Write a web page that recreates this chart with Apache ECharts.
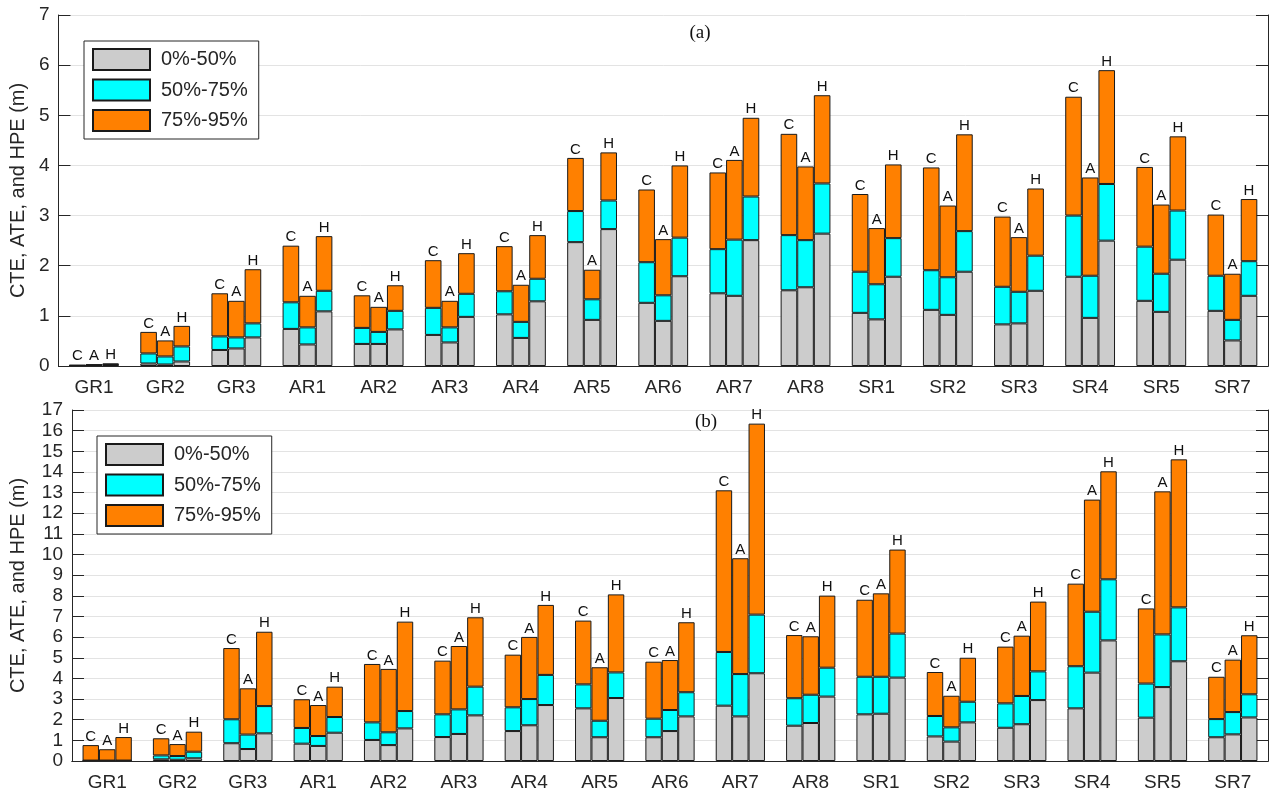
<!DOCTYPE html>
<html><head><meta charset="utf-8">
<script src="https://cdn.jsdelivr.net/npm/echarts@6/dist/echarts.min.js"></script>
<style>html,body{margin:0;padding:0;background:#fff}#c{width:1272px;height:793px}</style>
</head><body><div id="c"></div>
<script>
const categories = ['GR1','GR2','GR3','AR1','AR2','AR3','AR4','AR5','AR6','AR7','AR8','SR1','SR2','SR3','SR4','SR5','SR7'];
const segmentNames = ['0%-50%','50%-75%','75%-95%'];
const barLetters = ['C','A','H'];
const yTicksA = [0,1,2,3,4,5,6,7];
const yTicksB = [0,1,2,3,4,5,6,7,8,9,10,11,12,13,14,15,16,17];

// Panel (a): cumulative percentiles (m)
const aC50 = [0.005,0.05,0.32,0.74,0.44,0.62,1.03,2.47,1.26,1.45,1.51,1.06,1.12,0.83,1.78,1.30,1.10];
const aC75 = [0.01,0.25,0.59,1.27,0.76,1.16,1.49,3.09,2.07,2.33,2.61,1.88,1.91,1.58,3.00,2.38,1.80];
const aC95 = [0.02,0.68,1.45,2.40,1.41,2.11,2.39,4.15,3.52,3.86,4.63,3.43,3.96,2.98,5.37,3.97,3.02];
const aA50 = [0.01,0.03,0.35,0.43,0.44,0.47,0.56,0.92,0.90,1.40,1.57,0.93,1.02,0.85,0.96,1.08,0.51];
const aA75 = [0.02,0.19,0.57,0.77,0.68,0.77,0.88,1.33,1.41,2.52,2.51,1.63,1.77,1.48,1.80,1.84,0.92];
const aA95 = [0.03,0.51,1.30,1.40,1.18,1.30,1.62,1.92,2.53,4.11,3.98,2.75,3.20,2.57,3.76,3.22,1.84];
const aH50 = [0.02,0.09,0.57,1.09,0.73,0.98,1.29,2.73,1.79,2.51,2.64,1.78,1.88,1.50,2.50,2.12,1.40];
const aH75 = [0.03,0.39,0.85,1.50,1.10,1.44,1.74,3.30,2.56,3.38,3.64,2.55,2.69,2.20,3.63,3.10,2.09];
const aH95 = [0.05,0.80,1.93,2.59,1.61,2.25,2.61,4.26,4.00,4.95,5.40,4.02,4.62,3.54,5.90,4.58,3.33];

// Panel (b): cumulative percentiles (m)
const bC50 = [0.01,0.08,0.86,0.84,1.02,1.16,1.45,2.55,1.15,2.68,1.71,2.26,1.19,1.61,2.55,2.10,1.15];
const bC75 = [0.02,0.27,2.02,1.60,1.87,2.26,2.60,3.71,2.05,5.28,3.04,4.08,2.18,2.79,4.59,3.75,2.03];
const bC95 = [0.77,1.10,5.47,2.99,4.70,4.86,5.15,6.80,4.81,13.11,6.10,7.81,4.31,5.54,8.59,7.39,4.08];
const bA50 = [0.01,0.06,0.58,0.73,0.77,1.31,1.73,1.15,1.45,2.16,1.84,2.29,0.94,1.78,4.28,3.58,1.29];
const bA75 = [0.02,0.24,1.28,1.21,1.39,2.50,3.00,1.95,2.47,4.21,3.21,4.08,1.63,3.15,7.23,6.13,2.37];
const bA95 = [0.57,0.82,3.52,2.71,4.46,5.57,6.01,4.54,4.89,9.82,6.04,8.12,3.16,6.07,12.66,13.06,4.91];
const bH50 = [0.01,0.13,1.34,1.37,1.58,2.21,2.71,3.05,2.16,4.25,3.12,4.04,1.87,2.95,5.84,4.83,2.11];
const bH75 = [0.02,0.45,2.66,2.13,2.42,3.60,4.17,4.29,3.33,7.09,4.52,6.17,2.87,4.34,8.80,7.44,3.23];
const bH95 = [1.16,1.42,6.26,3.60,6.75,6.96,7.56,8.07,6.72,16.34,8.01,10.24,5.00,7.72,14.03,14.61,6.09];

const panels = [
  { C:[aC50,aC75,aC95], A:[aA50,aA75,aA95], H:[aH50,aH75,aH95], ticks: yTicksA },
  { C:[bC50,bC75,bC95], A:[bA50,bA75,bA95], H:[bH50,bH75,bH95], ticks: yTicksB }
];
const colors = ['#cccccc','#00ffff','#ff8000'];
const FONT = 'Liberation Sans, Arial, sans-serif';
const AX = '#262626';

function seg(arrs, s){
  return arrs[s].map((v,i)=> +(v - (s>0 ? arrs[s-1][i] : 0)).toFixed(4));
}

const grids = [
  {left:58, right:4, top:15, height:351},
  {left:72, right:4, top:410, height:351}
];
const xAxes = [], yAxes = [], series = [];
panels.forEach((p, gi) => {
  const ymax = p.ticks[p.ticks.length-1];
  xAxes.push({type:'category', gridIndex:gi, data:categories, position:'bottom', z:5,
    axisLine:{lineStyle:{color:AX, width:1}},
    axisTick:{alignWithLabel:true, inside:true, length:12, lineStyle:{color:AX}},
    axisLabel:{color:AX, fontSize:19, fontFamily:FONT, margin:12}});
  xAxes.push({type:'category', gridIndex:gi, data:categories, position:'top', z:5,
    axisLine:{lineStyle:{color:AX, width:1}},
    axisTick:{alignWithLabel:true, inside:true, length:12, lineStyle:{color:AX}},
    axisLabel:{show:false}});
  yAxes.push({type:'value', gridIndex:gi, min:0, max:ymax, interval:1, position:'left',
    name:'CTE, ATE, and HPE (m)', nameLocation:'middle', nameGap: gi===0?30:44,
    nameTextStyle:{color:AX, fontSize:20, fontFamily:FONT},
    axisLine:{show:true, lineStyle:{color:AX}},
    axisTick:{show:true, inside:true, length:12, lineStyle:{color:AX}},
    axisLabel:{color:AX, fontSize:19, fontFamily:FONT, margin:9},
    splitLine:{show:true, lineStyle:{color:'#e3e3e3', width:1}}});
  yAxes.push({type:'value', gridIndex:gi, min:0, max:ymax, interval:1, position:'right',
    axisLine:{show:true, lineStyle:{color:AX}},
    axisTick:{show:true, inside:true, length:12, lineStyle:{color:AX}},
    axisLabel:{show:false}, splitLine:{show:false}});
  barLetters.forEach(L => {
    for (let s=0; s<3; s++){
      series.push({
        type:'bar', name:segmentNames[s], stack:'g'+gi+L,
        xAxisIndex:gi*2, yAxisIndex:gi*2,
        data: seg(p[L], s),
        barGap:'0%', barCategoryGap:'30%',
        itemStyle:{color:colors[s], borderColor:'#1a1a1a', borderWidth:1},
        emphasis:{disabled:true},
        label: s===2 ? {show:true, position:'top', distance:1, formatter:L, color:'#111', fontSize:15, fontFamily:FONT} : {show:false}
      });
    }
  });
});

const legendCommon = {
  orient:'vertical', icon:'rect', itemWidth:57, itemHeight:21, itemGap:7.5,
  backgroundColor:'#fff', borderColor:AX, borderWidth:1, padding:[7,11,7,8],
  textStyle:{color:AX, fontSize:20, fontFamily:FONT, padding:[0,0,0,6]},
  data: segmentNames, selectedMode:false
};

const chart = echarts.init(document.getElementById('c'), null, {renderer:'canvas'});
chart.setOption({
  animation:false,
  backgroundColor:'#fff',
  grid: grids,
  xAxis: xAxes,
  yAxis: yAxes,
  legend: [
    Object.assign({left:84, top:41}, legendCommon),
    Object.assign({left:97, top:436}, legendCommon)
  ],
  graphic: [
    {type:'text', x:700, y:33, style:{text:'(a)', font:'19px "Liberation Serif", serif', fill:'#111', textAlign:'center', textVerticalAlign:'middle'}, z:10},
    {type:'text', x:706, y:422, style:{text:'(b)', font:'19px "Liberation Serif", serif', fill:'#111', textAlign:'center', textVerticalAlign:'middle'}, z:10}
  ],
  series: series
});
</script></body></html>
